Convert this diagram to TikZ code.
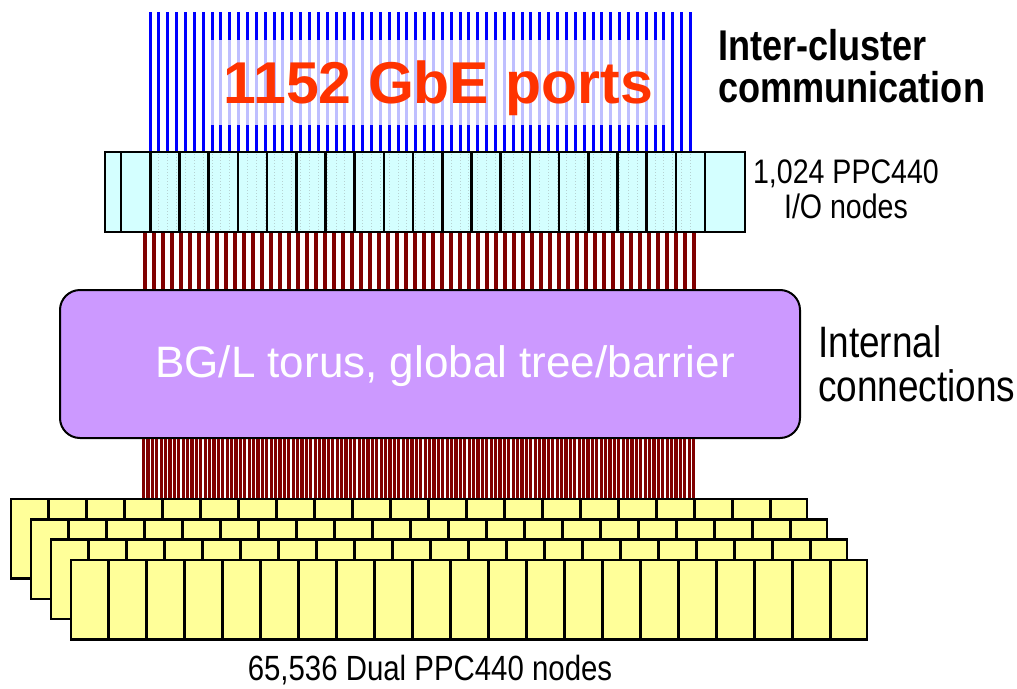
\documentclass[tikz,border=0pt]{standalone}
\usepackage{fontspec}
\setmainfont{Liberation Sans}
\newfontfamily\narrowfont[FakeStretch=0.84]{Liberation Sans}
\usetikzlibrary{positioning}

\definecolor{portred}{RGB}{255,51,0}
\definecolor{linkred}{RGB}{128,0,0}
\definecolor{iocyan}{RGB}{212,255,255}
\definecolor{toruspurple}{RGB}{204,153,255}
\definecolor{nodeyellow}{RGB}{255,255,153}

\begin{document}
\begin{tikzpicture}[
    x=1pt,
    y=-1pt,
    gbe/.style={draw=blue, line width=3pt},
    link/.style={draw=linkred, line width=3.2pt},
    denselink/.style={draw=linkred, line width=3.2pt},
    iobar/.style={draw=black, line width=2pt, fill=iocyan},
    divider/.style={draw=black, line width=2.6pt},
    torusbox/.style={draw=black, line width=2pt, fill=toruspurple, rounded corners=20pt},
    board/.style={draw=black, line width=2.5pt, fill=nodeyellow},
    caption/.style={inner sep=0pt, text=black}
]
\useasboundingbox (0,0) rectangle (1017,688);

% GbE ports
\foreach \i in {0,...,61}
  \draw[gbe] (150+\i*8.86,12) -- (150+\i*8.86,152);
\fill[white, opacity=0.75] (210,40) rectangle (666,125);
\node[anchor=base, inner sep=0pt, text=portred,
      font=\bfseries\fontsize{59}{60}\selectfont] (ports) at (438.5,103) {1152 GbE ports};

% I/O nodes
\draw[iobar] (105,152) rectangle (745,232);
\foreach \i in {0,...,61}
  \draw[gray, opacity=0.35, line width=1pt, dotted] (150+\i*8.86,154) -- (150+\i*8.86,230);
\foreach \k in {0,...,20}
  \draw[divider] (121+\k*29.2,152) -- (121+\k*29.2,232);

% links to the torus
\foreach \i in {0,...,61}
  \draw[link] (145+\i*9,233) -- (145+\i*9,289);

% torus / tree network
\draw[torusbox] (60,290) rectangle (800,438);
\node[anchor=base, inner sep=0pt, text=white,
      font=\fontsize{44}{46}\selectfont] (torus) at (445,377) {BG/L torus, global tree/barrier};

% links to the compute nodes
\foreach \i in {0,...,125}
  \draw[denselink] (143.5+\i*4.4,439) -- (143.5+\i*4.4,498);

% compute node boards, back to front
\foreach \k in {0,...,3} {
  \draw[board] (11+20*\k,499+20.3*\k) rectangle ++(796,79.5);
  \foreach \j in {0,...,19}
    \draw[divider] (48.3+20*\k+38*\j,499+20.3*\k) -- ++(0,79.5);
}

% labels
\node[caption, anchor=base west, align=left,
      font=\narrowfont\bfseries\fontsize{43}{42}\selectfont] (inter) at (718,102) {Inter-cluster\\communication};
\node[caption, anchor=base, align=center,
      font=\narrowfont\fontsize{34}{35}\selectfont] (ionodes) at (846,218) {1,024 PPC440\\I/O nodes};
\node[caption, anchor=base west, align=left,
      font=\narrowfont\fontsize{44}{44}\selectfont] (internal) at (818,401) {Internal\\connections};
\node[caption, anchor=base,
      font=\narrowfont\fontsize{35}{36}\selectfont] (compute) at (430,680) {65,536 Dual PPC440 nodes};

\end{tikzpicture}
\end{document}
